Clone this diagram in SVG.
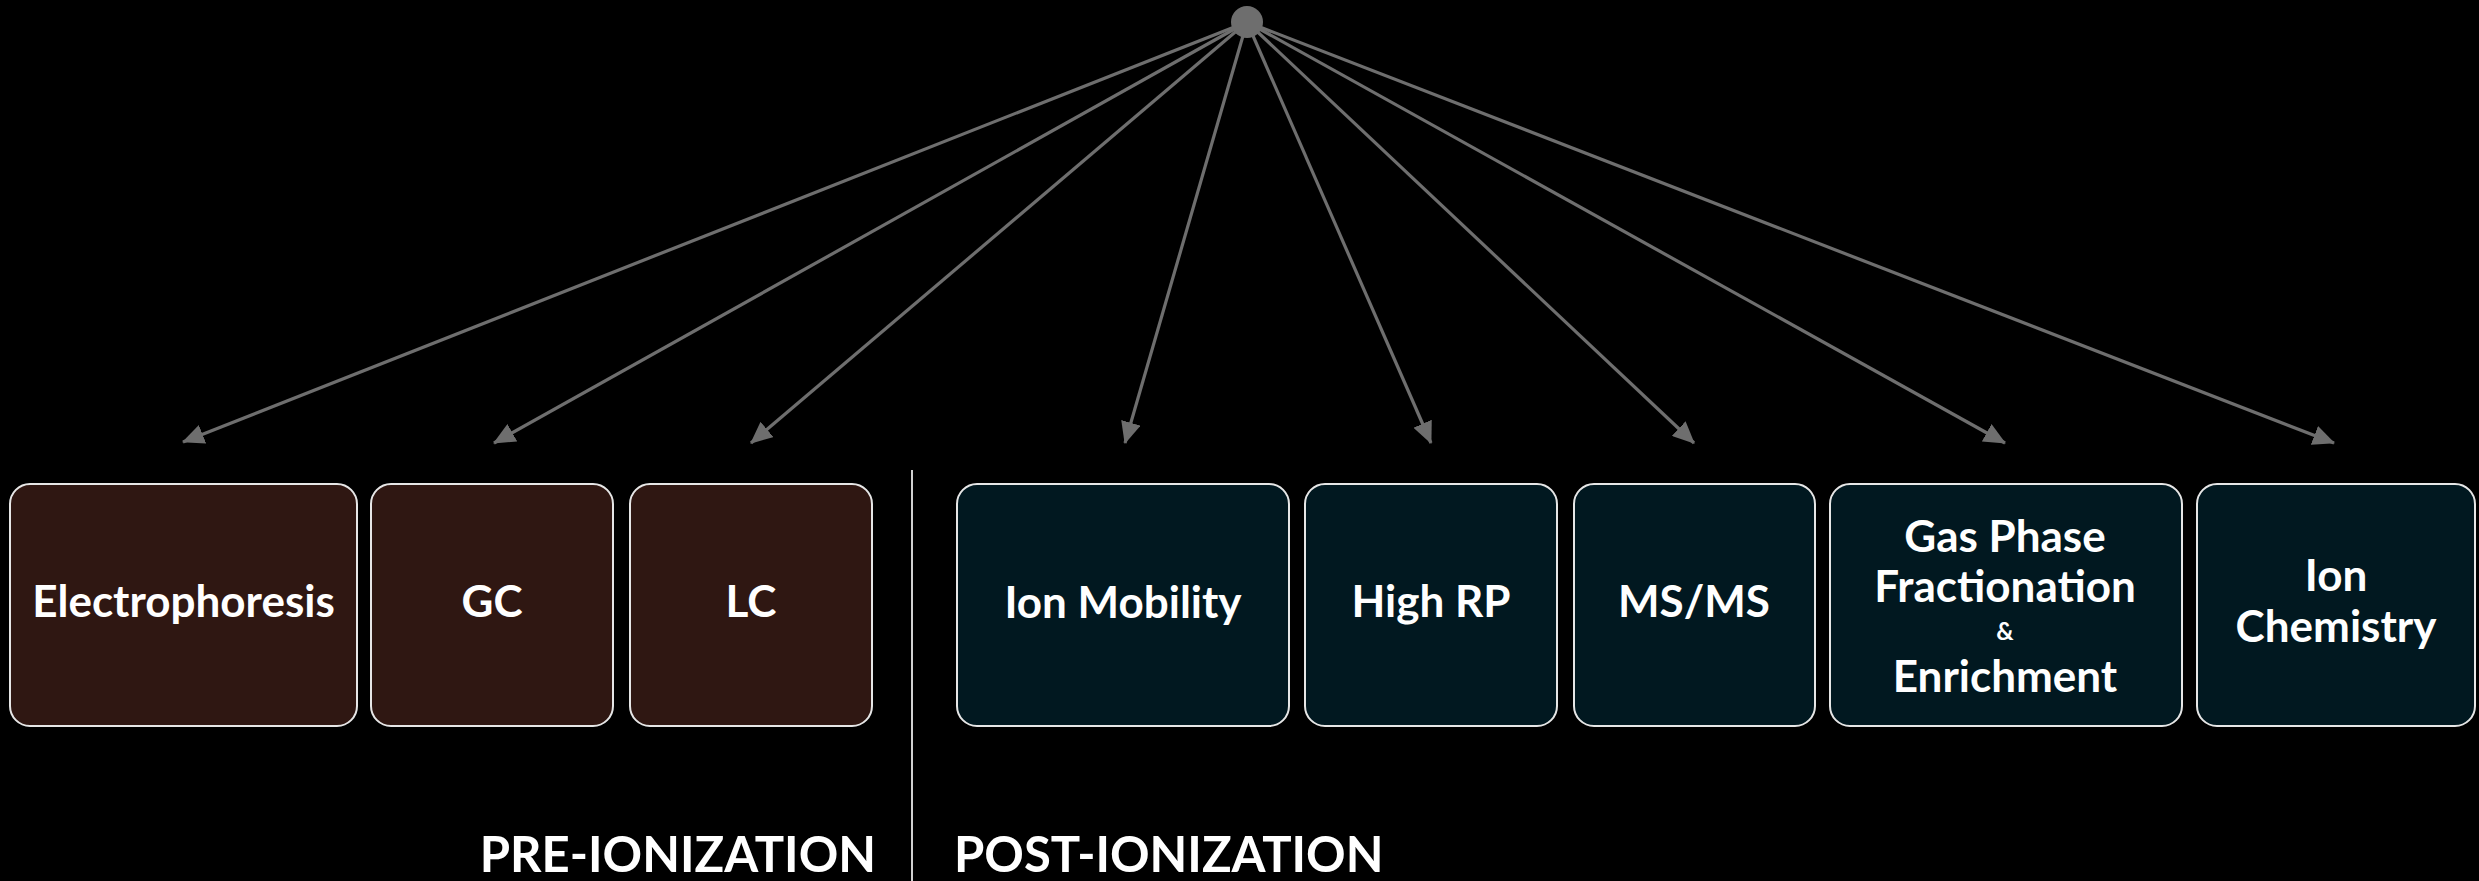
<svg xmlns="http://www.w3.org/2000/svg" width="2479" height="881" viewBox="0 0 2479 881">
  <style>
    .pre { fill: #2f1712; stroke: #e6e6e6; stroke-width: 2; }
    .post { fill: #011820; stroke: #e6e6e6; stroke-width: 2; }
    .lbl { font-family: Lato, "Noto Sans", "Liberation Sans", sans-serif; font-weight: 700; fill: #ffffff; text-anchor: middle; font-size: 44px; }
    .amp { font-size: 24px; }
    .section { font-family: Lato, "Noto Sans", "Liberation Sans", sans-serif; font-weight: 700; fill: #ffffff; font-size: 49px; }
    .edge { stroke: #6e6e6e; stroke-width: 3.2; fill: none; marker-end: url(#head); }
  </style>
  <defs>
    <marker id="head" markerUnits="userSpaceOnUse" markerWidth="22" markerHeight="20" refX="21" refY="10" orient="auto">
      <path d="M0,0 L22,10 L0,20 z" fill="#6e6e6e"/>
    </marker>
  </defs>
  <rect width="2479" height="881" fill="#000000"/>

  <g id="connectors">
    <line class="edge" x1="1247" y1="22" x2="183" y2="442"/>
    <line class="edge" x1="1247" y1="22" x2="494" y2="443"/>
    <line class="edge" x1="1247" y1="22" x2="751" y2="443"/>
    <line class="edge" x1="1247" y1="22" x2="1125" y2="443"/>
    <line class="edge" x1="1247" y1="22" x2="1431" y2="443"/>
    <line class="edge" x1="1247" y1="22" x2="1694" y2="443"/>
    <line class="edge" x1="1247" y1="22" x2="2005" y2="443"/>
    <line class="edge" x1="1247" y1="22" x2="2334" y2="443"/>
  </g>

  <g id="hub">
    <circle cx="1247" cy="22" r="16" fill="#6e6e6e"/>
  </g>

  <g id="divider">
    <line x1="912" y1="470" x2="912" y2="881" stroke="#d0d0d0" stroke-width="2"/>
  </g>

  <g id="electrophoresis">
    <rect class="pre" x="10" y="484" width="347" height="242" rx="20"/>
    <text class="lbl" x="183.5" y="617">Electrophoresis</text>
  </g>
  <g id="gc">
    <rect class="pre" x="371" y="484" width="242" height="242" rx="20"/>
    <text class="lbl" x="492" y="617">GC</text>
  </g>
  <g id="lc">
    <rect class="pre" x="630" y="484" width="242" height="242" rx="20"/>
    <text class="lbl" x="751" y="617">LC</text>
  </g>

  <g id="ion-mobility">
    <rect class="post" x="957" y="484" width="332" height="242" rx="20"/>
    <text class="lbl" x="1123" y="618">Ion Mobility</text>
  </g>
  <g id="high-rp">
    <rect class="post" x="1305" y="484" width="252" height="242" rx="20"/>
    <text class="lbl" x="1431" y="617">High RP</text>
  </g>
  <g id="ms-ms">
    <rect class="post" x="1574" y="484" width="241" height="242" rx="20"/>
    <text class="lbl" x="1694" y="617">MS/MS</text>
  </g>
  <g id="gas-phase">
    <rect class="post" x="1830" y="484" width="352" height="242" rx="20"/>
    <text class="lbl" x="2005" y="552">Gas Phase</text>
    <text class="lbl" x="2005" y="602">Fractionation</text>
    <text class="lbl amp" x="2005" y="640">&amp;</text>
    <text class="lbl" x="2005" y="692">Enrichment</text>
  </g>
  <g id="ion-chemistry">
    <rect class="post" x="2197" y="484" width="278" height="242" rx="20"/>
    <text class="lbl" x="2336" y="591">Ion</text>
    <text class="lbl" x="2336" y="642">Chemistry</text>
  </g>

  <g id="section-labels">
    <text class="section" x="876" y="872" text-anchor="end">PRE-IONIZATION</text>
    <text class="section" x="954" y="872" text-anchor="start">POST-IONIZATION</text>
  </g>
</svg>
